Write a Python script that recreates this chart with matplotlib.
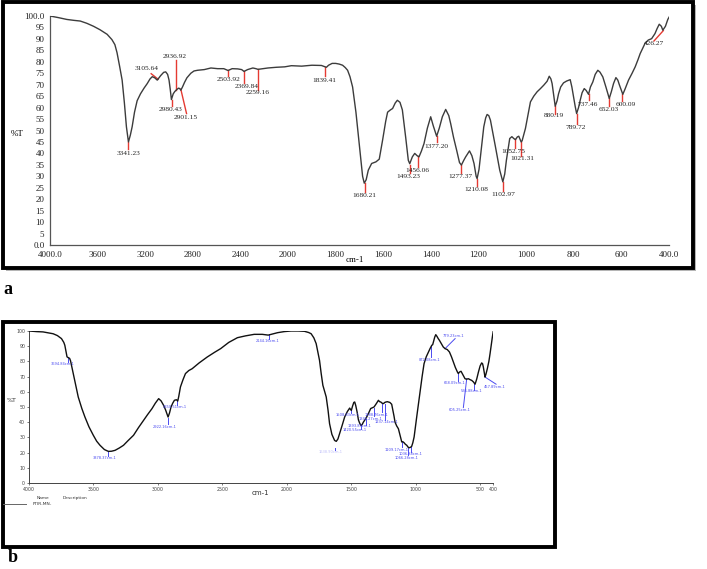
import numpy as np
import matplotlib
matplotlib.use("Agg")
import matplotlib.pyplot as plt
from matplotlib.patches import Rectangle

# ---------------- data: panel a ----------------
a_wn = [4000, 3930, 3859, 3800, 3746, 3690, 3634, 3580, 3520, 3480, 3455, 3437, 3415, 3394, 3375, 3358,
        3341, 3325, 3310, 3290, 3268, 3240, 3210, 3183, 3160, 3141, 3120, 3099, 3070, 3045, 3028, 3012,
        3000, 2990, 2980, 2965, 2952, 2937, 2920, 2910, 2901, 2887, 2870, 2850, 2817, 2790, 2760, 2704,
        2648, 2592, 2540, 2504, 2470, 2423, 2390, 2370, 2340, 2296, 2270, 2253, 2210, 2169, 2100, 2028,
        1986, 1943, 1900, 1860, 1845, 1839, 1830, 1815, 1800, 1785, 1771, 1760, 1750, 1740, 1729, 1715,
        1705, 1695, 1687, 1680, 1672, 1663, 1649, 1631, 1617, 1603, 1590, 1582, 1570, 1561, 1550, 1541,
        1530, 1520, 1506, 1495, 1489, 1478, 1468, 1458, 1450, 1440, 1429, 1415, 1401, 1390, 1376, 1365,
        1352, 1338, 1325, 1317, 1305, 1292, 1280, 1272, 1262, 1254, 1238, 1228, 1219, 1210, 1206, 1198,
        1192, 1178, 1170, 1164, 1157, 1150, 1140, 1129, 1111, 1098, 1090, 1083, 1069, 1060, 1052, 1045,
        1037, 1031, 1021, 1017, 1003, 992, 982, 968, 954, 940, 926, 912, 903, 896, 891, 884, 878, 870,
        864, 855, 843, 830, 815, 808, 801, 794, 788, 780, 773, 765, 756, 748, 738, 730, 720, 710, 699,
        690, 678, 665, 651, 642, 633, 623, 615, 608, 600, 594, 585, 570, 555, 542, 530, 521, 510, 500,
        487, 473, 459, 450, 441, 432, 426, 415, 405, 399]
a_T = [100, 99.3, 98.5, 98.1, 97.8, 96.8, 95.5, 94, 92, 89.7, 87.5, 84, 78, 72, 62, 51.6,
       45, 48, 51.6, 58, 63, 66, 68.5, 70.5, 72.5, 73.5, 73, 72, 74, 75.4, 75.6, 74.5,
       72, 68, 63.5, 66, 67, 67.8, 68.5, 68.3, 67.6, 69, 71, 73, 75, 76, 76.3, 76.6,
       77.3, 77, 77, 76.2, 77, 76.9, 76.6, 75.8, 76.6, 77.3, 77, 76.7, 77, 77.3, 77.6, 77.8,
       78.3, 78.1, 78.5, 78.4, 77.8, 77.6, 78.5, 79.3, 79.3, 79, 78.5, 77.5, 76.3, 73.5, 69, 58,
       48, 38, 30, 27, 28.5, 32.7, 35.6, 36.3, 37.5, 45.8, 54, 58, 59, 59.6, 62, 63.2,
       62.3, 59, 47, 37, 35.5, 38.5, 40, 39, 38.5, 41, 44.3, 51, 56, 52, 47.5, 51,
       56, 59.2, 56.5, 53, 47, 41.4, 36, 34.9, 37, 38.5, 41.1, 39, 35.6, 30, 29, 33,
       38.5, 51.6, 55.5, 57, 56.5, 54.5, 49, 42.9, 32.7, 27.6, 31, 37, 46.5, 47.3, 46.5, 46,
       47.2, 47.5, 45, 45.5, 50.9, 57, 62.5, 65, 66.9, 68.3, 69.8, 71.5, 73.7, 72.5, 70.5, 65, 60.6, 63,
       66, 69, 70.8, 71.6, 72.2, 69, 64.7, 60.5, 57.4, 60, 63.2, 66.5, 68.3, 67.5, 65.8, 69, 71.2, 74.5, 76.3,
       75.5, 73.4, 69, 64, 67, 70.5, 73.1, 72, 69.8, 67.5, 65.8, 68, 72, 75, 77.8, 81, 83.6, 86, 88.2,
       89.5, 90.1, 92.3, 94.5, 96.4, 95.5, 93.8, 95.5, 98.5, 99.6]

a_peaks = ["3341.23", "3105.64", "2936.92", "2980.43", "2901.15", "2503.92", "2369.84", "2259.16",
           "1839.41", "1680.21", "1493.23", "1456.06", "1377.20", "1277.37", "1210.08", "1102.97",
           "1052.75", "1021.31", "880.19", "789.72", "737.46", "652.03", "600.09", "426.27"]
# (line x1, y1, x2, y2, text x, text y)
a_ann_pos = [(3341, 45, 3341, 42, 3341, 40),
             (3092, 72.4, 3150, 74.8, 3190, 77),
             (2940, 67.6, 2940, 80.7, 2950, 82.5),
             (2974, 63.5, 2974, 60.6, 2983, 59.2),
             (2901, 68.0, 2853, 57.4, 2859, 55.7),
             (2504, 76.6, 2504, 73.7, 2504, 72.2),
             (2368, 76, 2368, 70.8, 2352, 69.4),
             (2255, 76.9, 2255, 67.9, 2255, 66.7),
             (1846, 77.8, 1846, 73.7, 1846, 72),
             (1677, 27.2, 1677, 23.3, 1680, 21.8),
             (1489, 35, 1489, 31.3, 1494, 29.8),
             (1453, 38.8, 1453, 34.2, 1457, 32.7),
             (1376, 47.5, 1376, 45, 1376, 43.2),
             (1275, 34.9, 1275, 31.3, 1275, 29.8),
             (1208, 29, 1208, 25.7, 1208, 24.4),
             (1098, 27.6, 1098, 23.5, 1098, 22.1),
             (1048, 46.5, 1048, 42.2, 1054, 41.0),
             (1020, 44.8, 1020, 39.0, 1018, 37.8),
             (877, 60.6, 877, 57.4, 882, 56.4),
             (787, 57.4, 787, 52.8, 790, 51.2),
             (735, 65.8, 735, 63.2, 741, 61.5),
             (651, 64, 651, 60.6, 654, 59.3),
             (597, 65.8, 597, 62.9, 583, 61.5),
             (424, 93.6, 463, 89.1, 463, 87.9)]

a_xticks = [4000, 3600, 3200, 2800, 2400, 2000, 1800, 1600, 1400, 1200, 1000, 800, 600, 400]
a_xticklabels = ["4000.0", "3600", "3200", "2800", "2400", "2000", "1800", "1600", "1400",
                 "1200", "1000", "800", "600", "400.0"]
a_yticks = list(range(0, 101, 5))
a_yticklabels = ["0.0"] + [str(v) for v in range(5, 100, 5)] + ["100.0"]

# ---------------- data: panel b ----------------
b_wn = [4000, 3940, 3891, 3850, 3813, 3780, 3748, 3730, 3722, 3712, 3705, 3696, 3685, 3678, 3668, 3657,
        3640, 3618, 3590, 3566, 3535, 3501, 3475, 3449, 3415, 3384, 3360, 3332, 3300, 3267, 3230, 3189,
        3150, 3111, 3080, 3046, 3020, 2994, 2975, 2955, 2940, 2921, 2910, 2898, 2885, 2872, 2856, 2846,
        2838, 2825, 2805, 2786, 2760, 2734, 2680, 2617, 2560, 2513, 2450, 2383, 2320, 2253, 2190, 2144,
        2100, 2071, 2020, 1967, 1910, 1863, 1830, 1811, 1790, 1772, 1760, 1746, 1733, 1720, 1705, 1694,
        1680, 1668, 1650, 1629, 1616, 1603, 1590, 1570, 1551, 1530, 1512, 1505, 1499, 1490, 1480, 1473,
        1465, 1455, 1444, 1435, 1426, 1415, 1406, 1394, 1380, 1365, 1349, 1335, 1323, 1307, 1289, 1280,
        1271, 1260, 1250, 1240, 1230, 1220, 1212, 1200, 1186, 1175, 1168, 1160, 1147, 1134, 1120, 1108,
        1100, 1090, 1080, 1069, 1058, 1049, 1040, 1031, 1022, 1012, 1002, 992, 980, 966, 950, 935, 918,
        901, 888, 875, 868, 862, 852, 844, 835, 825, 816, 800, 786, 772, 755, 738, 722, 707, 692, 676,
        669, 660, 648, 635, 617, 605, 591, 578, 565, 552, 539, 526, 513, 500, 488, 481, 475, 468, 462,
        455, 444, 432, 423, 415, 405, 397]
b_T = [100, 99.6, 99.4, 98.8, 98.2, 97, 95, 92.5, 90.6, 86, 83, 82.5, 82, 80.5, 76.5, 72,
       65, 56.6, 49, 43.4, 37, 31.4, 27.5, 24.8, 22, 20.8, 20.9, 21.5, 23, 24.8, 28, 31.4,
       36.5, 41.2, 45, 48.9, 52.5, 55.5, 54, 51, 48, 43.4, 46, 50, 52.5, 54.4, 54.8, 53.9,
       57, 63.2, 68, 72, 74, 75.2, 79, 82.9, 86, 88.4, 92.5, 95.6, 96.8, 97.8, 97.8, 97.3,
       98.3, 98.9, 99.6, 100, 100, 99.8, 99, 98.2, 95.5, 91.7, 86.5, 80.7, 72, 64.3, 60, 56.6,
       48, 39, 32, 28, 27.4, 29, 32.5, 38, 43.4, 47, 49.3, 48.3, 47.8, 50.5, 53, 53.3,
       51, 47, 41.5, 39.5, 38, 38.5, 40, 41.5, 43.4, 46, 49, 49.5, 50, 52, 54.4, 53.5,
       53.3, 52.5, 52.2, 53, 53.3, 53.5, 53.3, 53, 51.8, 47, 44, 40, 37.5, 35.7, 31, 27,
       27.2, 26.5, 25.5, 24.8, 23.5, 23.2, 23.5, 24.1, 26.5, 30.3, 37, 43.4, 51, 60, 70, 78.5, 83,
       86.2, 88.5, 90.6, 91, 92.8, 96, 97.6, 96.5, 95, 93.9, 91.5, 89.5, 88.4, 87.8, 86.2, 83, 79.6, 76, 73,
       72, 73, 73.5, 71.5, 68.6, 68.3, 68.6, 68, 67.5, 66.5, 65, 68.5, 73, 77, 79, 78.5, 76.3, 72.5, 69.7,
       71.5, 75.2, 80, 85, 90, 96, 100.4]

b_peaks = ["3694.84cm-1", "3378.37cm-1", "2922.16cm-1", "2850.51cm-1", "2144.16cm-1", "1638.90cm-1",
           "1508.83cm-1", "1420.55cm-1", "1393.87cm-1", "1346.27cm-1", "1288.76cm-1", "1237.14cm-1",
           "1109.17cm-1", "1036.88cm-1", "1066.28cm-1", "872.08cm-1", "779.23cm-1", "668.09cm-1",
           "605.25cm-1", "536.88cm-1", "457.89cm-1"]
b_ann_pos = [(3701, 83, 3701, 79.6, 3735, 78.5),
             (3384, 20.6, 3384, 17.8, 3410, 16.7),
             (2921, 43, 2921, 38.6, 2947, 36.8),
             (2851, 53.9, 2851, 51.1, 2869, 49.8),
             (2136, 97.8, 2136, 95, 2149, 93.4),
             (1624, 23, 1624, 21.5, 1660, 20.6),
             (1504, 48.9, 1504, 46.3, 1525, 45),
             (1426, 38, 1426, 35.7, 1470, 34.6),
             (1385, 42.3, 1385, 38.3, 1437, 37.3),
             (1323, 49.6, 1323, 43.9, 1349, 42.3),
             (1263, 52.2, 1263, 46.7, 1302, 45),
             (1237, 52, 1237, 41.3, 1225, 40),
             (1108, 27, 1108, 23.7, 1147, 21.5),
             (1036, 23.7, 1036, 20.4, 1043, 18.9),
             (1062, 23.2, 1062, 18.2, 1069, 16.7),
             (881, 90.6, 881, 82.9, 896, 80.7),
             (772, 88.4, 694, 95, 707, 96.5),
             (674, 72, 674, 67.1, 694, 65.8),
             (604, 68.6, 630, 49.6, 656, 48.2),
             (544, 65, 544, 61.4, 565, 60.5),
             (462, 69.7, 376, 65, 384, 63.2)]
b_faint = ["1638.90cm-1"]

b_xticks = [4000, 3500, 3000, 2500, 2000, 1500, 1000, 500, 400]
b_xticklabels = ["4000", "3500", "3000", "2500", "2000", "1500", "1000", "500", "400"]
b_yticks = list(range(0, 101, 10))

# ---------------- figure ----------------
W, H = 707, 569
fig = plt.figure(figsize=(W / 100, H / 100), dpi=100)
fig.patch.set_facecolor("white")


def px(x, y):
    return x / W, 1 - y / H


def frame(x0, y0, x1, y1, lw=2.8, shadow=True):
    if shadow:
        fig.patches.append(Rectangle(px(x0 + 3, y1 + 3), (x1 - x0) / W, (y1 - y0) / H,
                                     transform=fig.transFigure, facecolor="#b5b5b5",
                                     edgecolor="none", zorder=-3))
    fig.patches.append(Rectangle(px(x0, y1), (x1 - x0) / W, (y1 - y0) / H,
                                 transform=fig.transFigure, facecolor="white",
                                 edgecolor="black", linewidth=lw, zorder=-2))


frame(3, 2, 693, 268)
frame(3, 322, 555, 547, shadow=False)

serif = ["Liberation Serif", "DejaVu Serif"]

# ---- panel a ----
axa = fig.add_axes([50 / W, 1 - 245 / H, 619 / W, 229 / H])
axa.set_facecolor("none")
axa.set_zorder(2)


def fwd(x):
    x = np.asarray(x, dtype=float)
    return np.where(x >= 2000, x / 400.0, 5.0 - (2000.0 - x) / 200.0)


def inv(u):
    u = np.asarray(u, dtype=float)
    return np.where(u >= 5, u * 400.0, 2000.0 - (5.0 - u) * 200.0)


axa.set_xscale("function", functions=(fwd, inv))
axa.plot(a_wn, a_T, color="#3c3c3c", lw=1.0, zorder=3)
axa.set_xlim(4000, 400)
axa.set_ylim(0, 100)
axa.set_xticks(a_xticks)
axa.set_xticklabels(a_xticklabels)
axa.set_yticks(a_yticks)
axa.set_yticklabels(a_yticklabels)
axa.minorticks_off()
for s in ["top", "right"]:
    axa.spines[s].set_visible(False)
for s in ["left", "bottom"]:
    axa.spines[s].set_color("#555555")
    axa.spines[s].set_linewidth(0.9)
axa.tick_params(length=0, pad=4, labelsize=6.5, colors="#222222")
for lab in axa.get_xticklabels() + axa.get_yticklabels():
    lab.set_family(serif)

red = "#e53a32"
for lbl, (x1, y1, x2, y2, tx, ty) in zip(a_peaks, a_ann_pos):
    axa.plot([x1, x2], [y1, y2], color=red, lw=1.0, zorder=2)
    axa.text(tx, ty, lbl, ha="center", va="center", fontsize=5.3, family=serif,
             color="#222222", zorder=4)

fig.text(*px(17, 134), "%T", ha="center", va="center", fontsize=6.5, family=serif)
fig.text(*px(355, 260), "cm-1", ha="center", va="center", fontsize=6.5, family=serif)

# ---- panel b ----
axb = fig.add_axes([29 / W, 1 - 483 / H, 464 / W, 152 / H])
axb.set_facecolor("none")
axb.set_zorder(2)
axb.plot(b_wn, b_T, color="#111111", lw=1.0, zorder=3)
axb.set_xlim(4000, 400)
axb.set_ylim(0, 100)
axb.set_xticks(b_xticks)
axb.set_xticklabels(b_xticklabels)
axb.set_yticks(b_yticks)
for s in ["top", "right"]:
    axb.spines[s].set_visible(False)
for s in ["left", "bottom"]:
    axb.spines[s].set_color("#444444")
    axb.spines[s].set_linewidth(0.7)
axb.tick_params(length=1.5, width=0.5, pad=1.2, labelsize=3.4, colors="#444444")

blue = "#4a4af0"
for lbl, (x1, y1, x2, y2, tx, ty) in zip(b_peaks, b_ann_pos):
    axb.plot([x1, x2], [y1, y2], color=blue, lw=0.7, zorder=2, clip_on=False)
    axb.text(tx, ty, lbl, ha="center", va="center", fontsize=2.6, color=blue,
             alpha=0.35 if lbl in b_faint else 1.0, zorder=4, clip_on=False)

fig.text(*px(12, 401), "%T", ha="center", va="center", fontsize=4.5, color="#333333")
fig.text(*px(260, 493), "cm-1", ha="center", va="center", fontsize=5, color="#333333")
fig.text(*px(43, 498), "Name", ha="center", va="center", fontsize=3.2, color="#333333")
fig.text(*px(75, 498), "Description", ha="center", va="center", fontsize=3.2, color="#333333")
fig.add_artist(plt.Line2D([3 / W, 26 / W], [1 - 504 / H, 1 - 504 / H], color="#666666",
                          lw=0.7, transform=fig.transFigure))
fig.text(*px(33, 504), "FTIR-MN-", ha="left", va="center", fontsize=3.2, color="#333333")

# panel letters
fig.text(*px(8, 290), "a", ha="center", va="center", fontsize=13, fontweight="bold",
         family=serif)
fig.text(*px(13, 557), "b", ha="center", va="center", fontsize=13, fontweight="bold",
         family=serif)

fig.savefig("out.png", dpi=100)
